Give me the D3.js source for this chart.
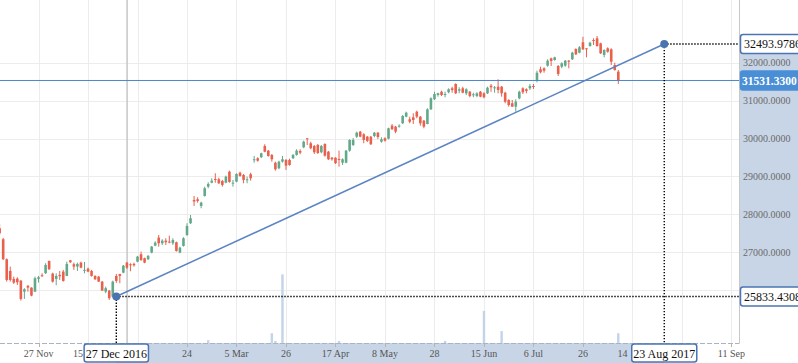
<!DOCTYPE html>
<html>
<head>
<meta charset="utf-8">
<script src="https://cdn.jsdelivr.net/npm/d3@7"></script>
<style>
  html, body { margin: 0; padding: 0; background: #ffffff; }
  svg { display: block; }
  text { font-family: "Liberation Serif", "Times New Roman", serif; }
</style>
</head>
<body>
<svg id="chart" width="798" height="363"></svg>
<script>
// ---------- DATA ----------
const openVals = [
27634, 27344, 26817, 26508, 26297, 26305, 26252, 25962, 26113, 26068,
25962, 26297, 26395, 26447, 26772, 26437, 26297, 26403, 26490, 26376,
26790, 26685, 26622, 26727, 26508, 26569, 26508, 26376, 26358, 26226,
25962, 25989, 25831, 26376, 26429, 26463, 26727, 26685, 26693, 26753,
26948, 26843, 26817, 26991, 27175, 27386, 27238, 27307, 27281, 27238,
27265, 26991, 27167, 27457, 27766, 28380, 28399, 28222, 28486, 28731,
28836, 28934, 28926, 28881, 28836, 29126, 28820, 28863, 29100, 29039,
28907, 29058, 29435, 29479, 29506, 29804, 29680, 29566, 29363, 29216,
29390, 29435, 29435, 29479, 29566, 29672, 29769, 30007, 29875, 29804,
29830, 29638, 29856, 29653, 29495, 29495, 29461, 29363, 29363, 29680,
29830, 30049, 30181, 30112, 30049, 30049, 30067, 30154, 29917, 30007,
29996, 30339, 30313, 30313, 30402, 30576, 30508, 30560, 30708, 30576,
30471, 30384, 30771, 31035, 31148, 31235, 31148, 31220, 31325, 31438,
31262, 31325, 31193, 31235, 31148, 31122, 31235, 31193, 31193, 31394,
31325, 31367, 31367, 31209, 31017, 30930, 30840, 31061, 31325, 31299,
31325, 31386, 31517, 31826, 31852, 31921, 32116, 32071, 31913, 31894,
31921, 32053, 32090, 32361, 32264, 32538, 32380, 32440, 32598, 32643,
32511, 32203, 32380, 32353, 31939, 31763
];
const highVals = [
27747, 27378, 26838, 26622, 26358, 26342, 26271, 26052, 26139, 26078,
26358, 26376, 26447, 26711, 26780, 26463, 26447, 26508, 26535, 26753,
26798, 26727, 26727, 26753, 26745, 26595, 26535, 26395, 26376, 26245,
26094, 26007, 26252, 26429, 26429, 26666, 26745, 26711, 26727, 26904,
27017, 26860, 26930, 27167, 27291, 27457, 27344, 27370, 27439, 27370,
27281, 27149, 27397, 27766, 27984, 28486, 28451, 28335, 28731, 28847,
28952, 29084, 28968, 28907, 29021, 29153, 28907, 29084, 29126, 29066,
28994, 29100, 29540, 29506, 29627, 29849, 29698, 29593, 29390, 29416,
29540, 29461, 29469, 29593, 29717, 29717, 29943, 30007, 29917, 29830,
29856, 29830, 29875, 29672, 29514, 29506, 29680, 29479, 29698, 29980,
30015, 30181, 30199, 30139, 30067, 30067, 30173, 30173, 30033, 30033,
30286, 30384, 30331, 30376, 30621, 30708, 30576, 30666, 30734, 30595,
30489, 30798, 31088, 31235, 31209, 31262, 31235, 31325, 31367, 31456,
31351, 31367, 31325, 31254, 31209, 31220, 31254, 31220, 31367, 31438,
31386, 31562, 31386, 31235, 31035, 31017, 31035, 31262, 31351, 31325,
31438, 31438, 31789, 31894, 31879, 32090, 32132, 32158, 31939, 32010,
32071, 32071, 32290, 32380, 32440, 32685, 32380, 32554, 32643, 32704,
32527, 32353, 32406, 32380, 32000, 31807
];
const lowVals = [
27457, 26798, 26226, 26226, 26165, 26139, 25725, 25770, 25962, 25841,
25954, 26200, 26350, 26429, 26535, 26200, 26131, 26271, 26226, 26369,
26719, 26535, 26508, 26578, 26447, 26474, 26358, 26271, 26218, 25981,
25920, 25744, 25815, 26192, 26184, 26447, 26561, 26500, 26622, 26737,
26772, 26711, 26798, 26974, 27162, 27149, 27194, 27194, 27238, 27194,
27017, 26974, 27149, 27431, 27747, 28222, 28309, 28161, 28467, 28689,
28820, 28836, 28802, 28731, 28820, 28836, 28731, 28847, 28994, 28820,
28820, 28889, 29363, 29390, 29487, 29638, 29522, 29390, 29153, 29189,
29363, 29171, 29284, 29461, 29548, 29585, 29743, 29830, 29717, 29593,
29593, 29611, 29522, 29435, 29416, 29329, 29258, 29303, 29348, 29653,
29804, 30015, 30033, 29875, 29909, 29830, 30033, 29988, 29891, 29917,
29980, 30226, 30139, 30286, 30384, 30560, 30402, 30384, 30534, 30339,
30270, 30376, 30753, 31017, 31104, 31122, 31088, 31193, 31209, 31175,
31193, 31193, 31148, 31088, 31088, 31088, 31088, 31061, 31175, 31235,
31209, 31193, 31104, 30930, 30840, 30840, 30708, 31035, 31175, 31193,
31280, 31307, 31483, 31720, 31736, 31894, 31913, 32053, 31649, 31852,
31894, 31852, 32071, 32203, 32248, 32335, 32142, 32422, 32467, 32422,
32229, 32142, 32264, 31939, 31789, 31438
];
const closeVals = [
27502, 26817, 26271, 26271, 26200, 26210, 25770, 26025, 26068, 25857,
26316, 26342, 26369, 26666, 26553, 26226, 26376, 26369, 26245, 26693,
26737, 26622, 26693, 26595, 26535, 26490, 26376, 26289, 26226, 25989,
26052, 25788, 26226, 26245, 26376, 26648, 26595, 26658, 26658, 26885,
26798, 26727, 26904, 27149, 27254, 27238, 27307, 27265, 27254, 27325,
27035, 27122, 27370, 27695, 27897, 28340, 28354, 28309, 28689, 28802,
28889, 28907, 28820, 28776, 28994, 28855, 28836, 29066, 29013, 28907,
28926, 28952, 29453, 29416, 29611, 29653, 29540, 29453, 29189, 29390,
29453, 29284, 29303, 29566, 29680, 29627, 29917, 29980, 29743, 29638,
29619, 29804, 29548, 29453, 29453, 29348, 29435, 29453, 29680, 29962,
29962, 30154, 30049, 29962, 29936, 29849, 30154, 30041, 29980, 29943,
30270, 30244, 30181, 30339, 30595, 30682, 30444, 30489, 30576, 30402,
30313, 30771, 31061, 31175, 31193, 31148, 31175, 31299, 31280, 31193,
31299, 31209, 31299, 31122, 31167, 31193, 31104, 31088, 31341, 31351,
31351, 31280, 31193, 30972, 30885, 30840, 30972, 31235, 31220, 31254,
31386, 31367, 31736, 31747, 31789, 32053, 32045, 32142, 31702, 31984,
32053, 32026, 32264, 32221, 32406, 32353, 32353, 32527, 32580, 32440,
32248, 32335, 32290, 32026, 31807, 31531.33
];

// volume (only the bars that are visible; others are empty)
const volumeIdx = [59, 77, 78, 80, 96, 126, 137, 142, 175];
const volumeVal = [4, 14, 3, 98, 3, 3, 46, 17, 14];

// x-axis ticks (bar index) and the visible part of their labels
const xTickIdx    = [11, 25, 39, 53, 67, 81, 95, 109, 123, 137, 151, 165, 179, 193, 207];
const xTickLabels = ["27 Nov", "15", "", "24", "5 Mar", "26", "17 Apr", "8 May", "28", "15 Jun", "6 Jul", "26", "14", "", "11 Sep"];

// y-axis ticks
const yTicks = [26000, 27000, 28000, 29000, 30000, 31000, 32000];

// trend line end points
const trendIdx    = [33, 188];
const trendVal    = [25833.4308, 32493.9786];
const trendDates  = ["27 Dec 2016", "23 Aug 2017"];

// last close
const lastClose = 31531.33;
// crosshair (mouse) position, bar index
const crossIdx = 36.05;

// ---------- LAYOUT ----------
const W = 798, H = 363;
const plotRight = 739.5, plotBottom = 343;
const RED = "#e9604d", GREEN = "#62a98a";
const BAND = "#c8d5e6";
const BOXBLUE = "#4b75b2";

const svg = d3.select("#chart");

const x = d3.scaleLinear().domain([0, 175]).range([-0.36, 618.3]);
const y = d3.scaleLinear().domain([26000, 32000]).range([290.2, 62.7]);
const yVol = d3.scaleLinear().domain([0, 100]).range([plotBottom, plotBottom - 70]);

const data = openVals.map((o, i) => ({
  i, o, h: highVals[i], l: lowVals[i], c: closeVals[i]
}));

// background
svg.append("rect").attr("width", W).attr("height", H).attr("fill", "#fff");

// range bands on axes
const p1 = { x: x(trendIdx[0]), y: y(trendVal[0]) };
const p2 = { x: x(trendIdx[1]), y: y(trendVal[1]) };
svg.append("rect").attr("x", plotRight + 0.5).attr("y", p2.y)
  .attr("width", W - plotRight).attr("height", p1.y - p2.y).attr("fill", BAND);
svg.append("rect").attr("x", p1.x).attr("y", plotBottom)
  .attr("width", p2.x - p1.x).attr("height", H - plotBottom).attr("fill", BAND);

// grid
const grid = svg.append("g").attr("stroke", "#ececec").attr("stroke-width", 1);
yTicks.forEach(t => {
  const yy = Math.round(y(t)) + 0.5;
  grid.append("line").attr("x1", 0).attr("x2", plotRight).attr("y1", yy).attr("y2", yy);
});
xTickIdx.forEach(t => {
  const xx = Math.round(x(t)) + 0.5;
  grid.append("line").attr("x1", xx).attr("x2", xx).attr("y1", 0).attr("y2", plotBottom);
});

// crosshair vertical
svg.append("line").attr("x1", x(crossIdx)).attr("x2", x(crossIdx))
  .attr("y1", 0).attr("y2", plotBottom)
  .attr("stroke", "#c6c6c6").attr("stroke-width", 1.5);

// volume
svg.append("g").selectAll("rect").data(volumeIdx).join("rect")
  .attr("x", d => x(d) - 1.2)
  .attr("width", 2.4)
  .attr("y", (d, k) => yVol(volumeVal[k]))
  .attr("height", (d, k) => plotBottom - yVol(volumeVal[k]))
  .attr("fill", "#c3d4e8");

// candles
const bw = 2.6;
const cg = svg.append("g");
cg.selectAll("line").data(data).join("line")
  .attr("x1", d => x(d.i)).attr("x2", d => x(d.i))
  .attr("y1", d => y(d.h)).attr("y2", d => y(d.l))
  .attr("stroke", d => d.c >= d.o ? GREEN : RED).attr("stroke-width", 1);
cg.selectAll("rect").data(data).join("rect")
  .attr("x", d => x(d.i) - bw / 2)
  .attr("width", bw)
  .attr("y", d => y(Math.max(d.o, d.c)))
  .attr("height", d => Math.max(1, Math.abs(y(d.o) - y(d.c))))
  .attr("fill", d => d.c >= d.o ? GREEN : RED);

// last close line
svg.append("line").attr("x1", 0).attr("x2", plotRight)
  .attr("y1", y(lastClose)).attr("y2", y(lastClose))
  .attr("stroke", "#4a86c8").attr("stroke-width", 1);

// dotted guide lines
const dot = svg.append("g").attr("stroke", "#000").attr("stroke-width", 1.4)
  .attr("stroke-dasharray", "1.4,1.6").attr("fill", "none");
dot.append("line").attr("x1", p1.x).attr("x2", plotRight).attr("y1", p1.y).attr("y2", p1.y);
dot.append("line").attr("x1", p1.x).attr("x2", p1.x).attr("y1", p1.y).attr("y2", plotBottom);
dot.append("line").attr("x1", p2.x).attr("x2", plotRight).attr("y1", p2.y).attr("y2", p2.y);
dot.append("line").attr("x1", p2.x).attr("x2", p2.x).attr("y1", p2.y).attr("y2", plotBottom);

// trend line
svg.append("line").attr("x1", p1.x).attr("y1", p1.y).attr("x2", p2.x).attr("y2", p2.y)
  .attr("stroke", "#5b84c3").attr("stroke-width", 1.5);
[p1, p2].forEach(p => {
  svg.append("circle").attr("cx", p.x).attr("cy", p.y).attr("r", 4)
    .attr("fill", "#4a74b0");
});

// axis lines
svg.append("line").attr("x1", plotRight).attr("x2", plotRight).attr("y1", 0).attr("y2", plotBottom)
  .attr("stroke", "#c8c8c8").attr("stroke-width", 1);
svg.append("line").attr("x1", 0).attr("x2", plotRight).attr("y1", plotBottom + 0.5).attr("y2", plotBottom + 0.5)
  .attr("stroke", "#a9b4c2").attr("stroke-width", 1.2).attr("stroke-dasharray", "5,2");

// x tick marks + labels
const xa = svg.append("g");
xTickIdx.forEach((t, k) => {
  const xx = Math.round(x(t)) + 0.5;
  xa.append("line").attr("x1", xx).attr("x2", xx).attr("y1", plotBottom).attr("y2", plotBottom + 4)
    .attr("stroke", "#b4b4b4");
  const lab = xTickLabels[k];
  if (lab) {
    // labels that sit just left of a date box show only their day part, ending at the box
    const partial = (lab === "15" || lab === "14");
    xa.append("text").attr("x", partial ? x(t) - 5 : x(t)).attr("y", 357)
      .attr("text-anchor", partial ? "end" : "middle")
      .attr("font-size", 10).attr("fill", "#555").text(lab);
  }
});

// y labels (skip those hidden under a value box)
const boxVals = [trendVal[0], trendVal[1], lastClose];
const ya = svg.append("g");
yTicks.forEach(t => {
  if (boxVals.some(v => Math.abs(y(v) - y(t)) < 11)) return;
  ya.append("text").attr("x", 743).attr("y", y(t)).attr("dy", "0.35em")
    .attr("font-size", 10).attr("fill", "#6a6a6a").text(d3.format(".4f")(t));
});

// value boxes on right axis
function rightBox(v, filled) {
  const yy = y(v);
  svg.append("rect").attr("x", 740.5).attr("y", yy - 9.5).attr("width", 62).attr("height", 19)
    .attr("rx", 2.5)
    .attr("fill", filled ? "#4a8fd6" : "#fff")
    .attr("stroke", filled ? "#4a8fd6" : BOXBLUE).attr("stroke-width", 1.5);
  svg.append("text").attr("x", filled ? 742 : 744).attr("y", yy).attr("dy", "0.36em")
    .attr("font-size", filled ? 11.5 : 12)
    .attr("font-weight", filled ? "bold" : "normal")
    .attr("fill", filled ? "#fff" : "#111")
    .text(d3.format(".4f")(v));
}
rightBox(trendVal[1], false);
rightBox(trendVal[0], false);
rightBox(lastClose, true);

// date boxes on bottom axis
[p1, p2].forEach((p, k) => {
  const g = svg.append("g");
  const t = g.append("text").attr("x", p.x).attr("y", 357.5).attr("text-anchor", "middle")
    .attr("font-size", 12).attr("fill", "#111").text(trendDates[k]);
  const bb = t.node().getBBox();
  g.insert("rect", "text").attr("x", bb.x - 1.5).attr("y", plotBottom + 1)
    .attr("width", bb.width + 3).attr("height", 18).attr("rx", 2.5)
    .attr("fill", "#fff").attr("stroke", BOXBLUE).attr("stroke-width", 1.5);
});
</script>
</body>
</html>
